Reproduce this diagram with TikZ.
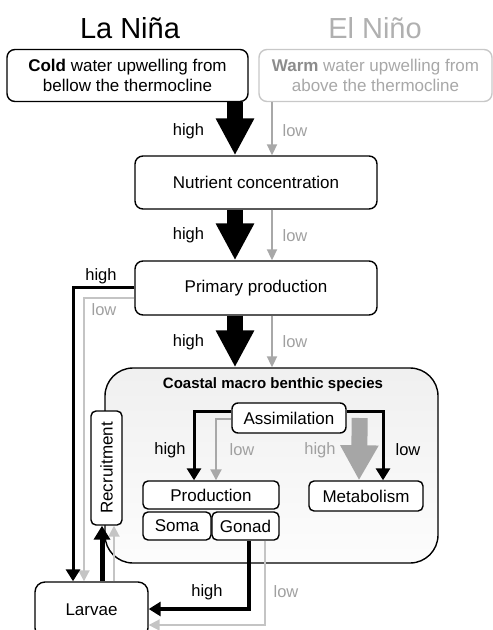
\documentclass[tikz,border=0pt]{standalone}
\usepackage{fontspec}
\setmainfont{Liberation Sans}
\usetikzlibrary{arrows.meta,calc}
\definecolor{lowtxt}{HTML}{A0A0A0}
\definecolor{warmline}{HTML}{C8C8C8}
\definecolor{warmtxt}{HTML}{A8A8A8}
\definecolor{warmbold}{HTML}{8C8C8C}
\definecolor{eltitle}{HTML}{B0B0B0}
\definecolor{garrow}{HTML}{A8A8A8}
\definecolor{gloop}{HTML}{C4C4C4}
\definecolor{gbig}{HTML}{A6A6A6}
\begin{document}
\begin{tikzpicture}[x=1pt,y=-1pt,
  box/.style={draw, line width=1.4pt, rounded corners=6pt, fill=white, inner sep=0pt, align=center, font=\fontsize{17}{20}\selectfont},
  lbl/.style={font=\fontsize{16.5}{19}\selectfont, inner sep=0pt},
  lowlbl/.style={lbl, text=lowtxt},
  bigarrow/.style={line width=16pt, -{Triangle[length=37pt,width=36pt]}},
  biggray/.style={gbig, line width=16pt, -{Triangle[length=35pt,width=36pt]}},
  thingray/.style={garrow, line width=2pt, -{Triangle[length=11pt,width=10pt]}},
  loopblack/.style={line width=3pt, -{Triangle[length=12pt,width=14pt]}},
  loopgray/.style={gloop, line width=2pt, -{Triangle[length=11pt,width=11pt]}},
  recblack/.style={line width=5pt, -{Triangle[length=14pt,width=16pt]}},
]
\useasboundingbox (0,0) rectangle (493,630);

% titles
\node[font=\fontsize{29}{32}\selectfont, inner sep=0pt] (tla) at (130,28) {La Niña};
\node[font=\fontsize{29}{32}\selectfont, inner sep=0pt, text=eltitle] (tel) at (375,28) {El Niño};

% top boxes
\node[box, rounded corners=8pt, minimum width=241pt, minimum height=52pt] (cold) at (127.5,75.5)
  {\textbf{Cold} water upwelling from\\bellow the thermocline};
\node[box, draw=warmline, text=warmtxt, rounded corners=8pt, minimum width=233pt, minimum height=52pt] (warm) at (375.5,75.5)
  {{\color{warmbold}\bfseries Warm} water upwelling from\\above the thermocline};

\node[box, rounded corners=8pt, minimum width=242pt, minimum height=53pt] (nut) at (256,182.5) {Nutrient concentration};
\node[box, rounded corners=8pt, minimum width=242pt, minimum height=54pt] (prim) at (256,288) {Primary production};

% coastal box
\node[draw, line width=1.4pt, rounded corners=28pt, top color=black!6, bottom color=black!1,
  minimum width=333pt, minimum height=195pt, inner sep=0pt] (coast) at (271.5,465.5) {};
\node[font=\bfseries\fontsize{15}{18}\selectfont, inner sep=0pt] (ctitle) at (273,385) {Coastal macro benthic species};

\node[box, minimum width=114pt, minimum height=30pt] (assim) at (289,418) {Assimilation};
\node[box, rounded corners=5pt, minimum width=136pt, minimum height=28pt] (prod) at (211,495) {Production};
\node[box, rounded corners=5pt, minimum width=68pt, minimum height=28pt] (soma) at (177,526) {Soma};
\node[box, rounded corners=5pt, minimum width=67pt, minimum height=28pt] (gonad) at (245.5,526) {Gonad};
\node[box, rounded corners=5pt, minimum width=114pt, minimum height=30pt] (metab) at (366,496) {Metabolism};
\node[box, rounded corners=5pt, minimum width=31pt, minimum height=114pt] (rec) at (106.5,468) {\rotatebox{90}{Recruitment}};
\node[box, rounded corners=10pt, minimum width=113pt, minimum height=56pt] (larv) at (91.5,610) {Larvae};

% x positions
\coordinate (xa) at (235,0);
\coordinate (xb) at (272,0);
\coordinate (xl) at (73,0);
\coordinate (xg) at (84,0);
\coordinate (xr) at (102,0);
\coordinate (xs) at (114,0);
\coordinate (xp) at (194,0);
\coordinate (xq) at (216,0);
\coordinate (xm) at (383,0);
\coordinate (xh) at (359,0);
\coordinate (xk) at (249,0);
\coordinate (xw) at (265,0);

% main chain
\draw[bigarrow] (cold.south -| xa) -- (nut.north -| xa);
\draw[thingray] (warm.south -| xb) -- (nut.north -| xb);
\draw[bigarrow] (nut.south -| xa) -- (prim.north -| xa);
\draw[thingray] (nut.south -| xb) -- (prim.north -| xb);
\draw[bigarrow] (prim.south -| xa) -- (coast.north -| xa);
\draw[thingray] (prim.south -| xb) -- (coast.north -| xb);

\node[lbl] (h1) at (188.5,131) {high};
\node[lowlbl] (l1) at (295,131) {low};
\node[lbl] (h2) at (188.5,235) {high};
\node[lowlbl] (l2) at (295,236) {low};
\node[lbl] (h3) at (188.5,342) {high};
\node[lowlbl] (l3) at (295,342) {low};

% left loop
\draw[loopgray] ($(prim.west)+(0,10)$) -| (xg |- larv.north);
\draw[loopblack] ($(prim.west)+(0,-1)$) -| (xl |- larv.north);
\node[lbl] (h4) at (101,276) {high};
\node[lowlbl] (l4) at (104,310) {low};

% recruitment arrows
\draw[loopgray] (xs |- larv.north) -- (xs |- rec.south);
\draw[recblack] (xr |- larv.north) -- (xr |- rec.south);

% inside coastal
\draw[loopgray, garrow] ($(assim.west)+(0,1)$) -| (xq |- prod.north);
\draw[loopblack] ($(assim.west)+(0,-7)$) -| (xp |- prod.north);
\draw[biggray] ($(assim.east)+(13,0)$) -- (xh |- metab.north);
\draw[loopblack] ($(assim.east)+(0,-7)$) -| (xm |- metab.north);
\node[lbl] (h5) at (170,450) {high};
\node[lowlbl] (l5) at (242,450) {low};
\node[lowlbl] (h6) at (320,450) {high};
\node[lbl] (l6) at (408,450) {low};

% gonad to larvae
\draw[loopgray] (xw |- gonad.south) |- ($(larv.east)+(0,15)$);
\draw[loopblack, line width=3.5pt] (xk |- gonad.south) |- ($(larv.east)+(0,-1)$);
\node[lbl] (h7) at (207,592) {high};
\node[lowlbl] (l7) at (286,592) {low};
\end{tikzpicture}
\end{document}
